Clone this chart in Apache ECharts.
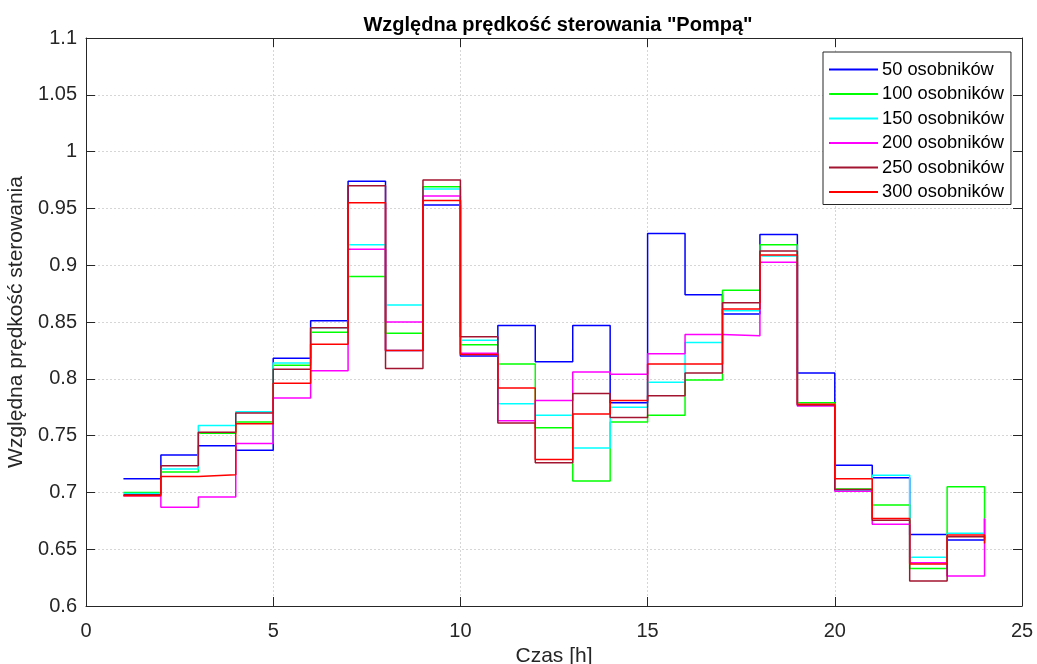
<!DOCTYPE html>
<html>
<head>
<meta charset="utf-8">
<script src="https://cdn.jsdelivr.net/npm/echarts@6/dist/echarts.min.js"></script>
<style>
  html, body { margin: 0; padding: 0; background: #fff; }
  #chart { width: 1037px; height: 664px; }
</style>
</head>
<body>
<div id="chart"></div>
<script>
// Hours (x positions of stairs points)
const hours = [1,2,3,4,5,6,7,8,9,10,11,12,13,14,15,16,17,18,19,20,21,22,23,24];

const seriesNames = ['50 osobników','100 osobników','150 osobników','200 osobników','250 osobników','300 osobników'];

const s50  = [0.712,0.733,0.741,0.737,0.818,0.851,0.974,0.825,0.953,0.820,0.847,0.815,0.847,0.779,0.928,0.874,0.857,0.927,0.805,0.724,0.713,0.663,0.658,0.677];
const s100 = [0.700,0.718,0.752,0.762,0.812,0.841,0.890,0.840,0.969,0.830,0.813,0.757,0.710,0.762,0.768,0.799,0.878,0.918,0.779,0.703,0.689,0.633,0.705,0.677];
const s150 = [0.699,0.7205,0.759,0.771,0.814,0.845,0.918,0.865,0.967,0.834,0.778,0.768,0.739,0.775,0.797,0.832,0.860,0.908,0.777,0.702,0.715,0.643,0.664,0.664];
const s200 = [0.697,0.687,0.696,0.743,0.783,0.807,0.914,0.850,0.961,0.8225,0.763,0.781,0.806,0.804,0.822,0.839,0.838,0.9025,0.776,0.701,0.672,0.638,0.6265,0.677];
const s250 = [0.698,0.7235,0.753,0.770,0.8085,0.845,0.970,0.809,0.975,0.837,0.761,0.726,0.787,0.766,0.785,0.805,0.867,0.9125,0.777,0.7025,0.6755,0.622,0.661,0.660];
const s300 = [0.697,0.714,0.7155,0.7605,0.796,0.8305,0.955,0.825,0.957,0.8215,0.792,0.729,0.769,0.781,0.813,0.813,0.8615,0.909,0.7775,0.712,0.677,0.637,0.6625,0.655];

const allValues = [s50, s100, s150, s200, s250, s300];
const colors = ['#0000ff','#00ff00','#00ffff','#ff00ff','#a2142f','#ff0000'];

const FONT = "'Liberation Sans', Arial, Helvetica, sans-serif";
const AX = '#262626';

const chart = echarts.init(document.getElementById('chart'), null, { renderer: 'canvas' });

const series = allValues.map((vals, k) => ({
  name: seriesNames[k],
  type: 'line',
  step: 'end',
  symbol: 'none',
  showSymbol: false,
  animation: false,
  xAxisIndex: 0,
  yAxisIndex: 0,
  data: hours.map((h, i) => [h, vals[i]]),
  lineStyle: { color: colors[k], width: 1.5 },
  itemStyle: { color: colors[k] }
}));

const gridLine = { show: true, lineStyle: { color: '#d6d6d6', type: [2, 2], width: 1 } };

chart.setOption({
  backgroundColor: '#ffffff',
  animation: false,
  title: {
    text: 'Względna prędkość sterowania "Pompą"',
    left: 553, textAlign: 'center',
    top: 10,
    textStyle: { fontFamily: FONT, fontSize: 20, fontWeight: 'bold', color: '#000' }
  },
  grid: { left: 86, top: 38, width: 936, height: 568, containLabel: false, outerBoundsMode: 'none' },
  legend: {
    orient: 'vertical',
    left: 823, top: 52,
    padding: [7.5, 7, 2.5, 6],
    itemGap: 4.5,
    itemWidth: 49,
    itemHeight: 2,
    icon: 'rect',
    backgroundColor: '#ffffff',
    borderColor: AX,
    borderWidth: 1,
    borderRadius: 0,
    textStyle: { fontFamily: FONT, fontSize: 18.3, color: '#000', lineHeight: 20, padding: [0, 0, 0, -1] },
    data: seriesNames
  },
  xAxis: [
    {
      type: 'value', min: 0, max: 25, interval: 5, position: 'bottom',
      name: 'Czas [h]', nameLocation: 'middle', nameGap: 37,
      nameTextStyle: { fontFamily: FONT, fontSize: 21, color: AX },
      axisLine: { show: true, lineStyle: { color: AX, width: 1 } },
      axisTick: { show: true, inside: true, length: 9, lineStyle: { color: AX } },
      axisLabel: { fontFamily: FONT, fontSize: 20, color: AX, margin: 15 },
      splitLine: gridLine
    },
    {
      type: 'value', min: 0, max: 25, interval: 5, position: 'top',
      axisLine: { show: true, onZero: false, lineStyle: { color: AX, width: 1 } },
      axisTick: { show: true, inside: true, length: 9, lineStyle: { color: AX } },
      axisLabel: { show: false },
      splitLine: { show: false }
    }
  ],
  yAxis: [
    {
      type: 'value', min: 0.6, max: 1.1, interval: 0.05, position: 'left',
      name: 'Względna prędkość sterowania', nameLocation: 'middle', nameGap: 52,
      nameTextStyle: { fontFamily: FONT, fontSize: 21, color: AX },
      axisLine: { show: true, onZero: false, lineStyle: { color: AX, width: 1 } },
      axisTick: { show: true, inside: true, length: 9, lineStyle: { color: AX } },
      axisLabel: {
        fontFamily: FONT, fontSize: 20, color: AX, margin: 9,
        formatter: v => String(parseFloat(v.toFixed(2)))
      },
      splitLine: gridLine
    },
    {
      type: 'value', min: 0.6, max: 1.1, interval: 0.05, position: 'right',
      axisLine: { show: true, onZero: false, lineStyle: { color: AX, width: 1 } },
      axisTick: { show: true, inside: true, length: 9, lineStyle: { color: AX } },
      axisLabel: { show: false },
      splitLine: { show: false }
    }
  ],
  series: series
});
</script>
</body>
</html>
